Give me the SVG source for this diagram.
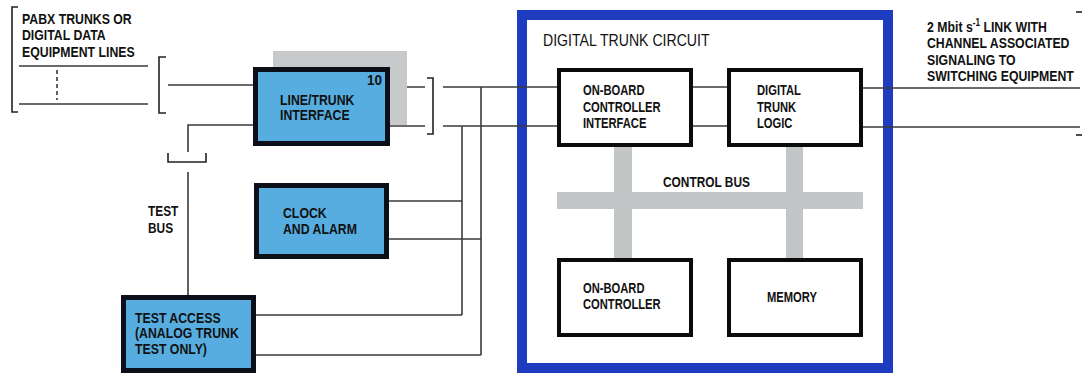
<svg xmlns="http://www.w3.org/2000/svg" width="1082" height="373" viewBox="0 0 1082 373">
<style>
  text { font-family: "Liberation Sans", Arial, sans-serif; fill: #111; }
  .t { font-weight: bold; font-size: 15px; }
  .tw { font-weight: bold; font-size: 14px; }
  .tb { font-weight: bold; font-size: 14.5px; }
  .tr { font-weight: normal; font-size: 17px; }
  .bluebox { fill: #58ade0; stroke: #0b0f1a; stroke-width: 5; }
  .whitebox { fill: #ffffff; stroke: #0b0b0b; stroke-width: 4; }
  .ln { fill: none; stroke: #3a3a3a; stroke-width: 1.6; }
  .br { fill: none; stroke: #222; stroke-width: 1.6; }
  .bus { fill: #c3c6c6; }
</style>
<rect width="1082" height="373" fill="#ffffff"/>

<g id="pabx-lines">
  <path class="br" d="M18,7 H12 V112 H18"/>
  <text class="t" transform="matrix(0.82,0,0,1,22,24)">PABX TRUNKS OR</text>
  <text class="t" transform="matrix(0.82,0,0,1,22,40)">DIGITAL DATA</text>
  <text class="t" transform="matrix(0.82,0,0,1,22,57)">EQUIPMENT LINES</text>
  <line class="ln" x1="19" y1="66" x2="148" y2="66"/>
  <line class="ln" x1="19" y1="104" x2="148" y2="104"/>
  <line class="ln" x1="57" y1="70" x2="57" y2="100" stroke-dasharray="4,3"/>
  <path class="br" d="M166,57 H159 V113 H166"/>
</g>

<g id="digital-trunk-circuit">
  <rect x="522" y="15" width="366" height="353" fill="none" stroke="#1d3cc0" stroke-width="10"/>
  <text class="tr" transform="matrix(0.83,0,0,1,543,46)">DIGITAL TRUNK CIRCUIT</text>
</g>

<g id="control-bus">
  <rect class="bus" x="614" y="147" width="18" height="111"/>
  <rect class="bus" x="786" y="147" width="17" height="111"/>
  <rect class="bus" x="557" y="192" width="306" height="17"/>
  <text class="tb" transform="matrix(0.82,0,0,1,663,187)">CONTROL BUS</text>
</g>

<g id="connectors">
  <line class="ln" x1="168" y1="85" x2="253" y2="85"/>
  <polyline class="ln" points="253,125 188,125 188,152"/>
  <polyline class="br" points="168,153 168,162 206,162 206,153"/>
  <line class="ln" x1="188" y1="172" x2="188" y2="295"/>
  <line class="ln" x1="390" y1="87" x2="425" y2="87"/>
  <line class="ln" x1="390" y1="126" x2="425" y2="126"/>
  <path class="br" d="M427,78 H433 V134 H427"/>
  <line class="ln" x1="443" y1="87" x2="557" y2="87"/>
  <line class="ln" x1="443" y1="126" x2="557" y2="126"/>
  <line class="ln" x1="481" y1="87" x2="481" y2="355"/>
  <line class="ln" x1="462" y1="126" x2="462" y2="315"/>
  <line class="ln" x1="389" y1="201" x2="462" y2="201"/>
  <line class="ln" x1="389" y1="239" x2="481" y2="239"/>
  <line class="ln" x1="256" y1="315" x2="462" y2="315"/>
  <line class="ln" x1="256" y1="355" x2="481" y2="355"/>
  <line class="ln" x1="693" y1="87" x2="727" y2="87"/>
  <line class="ln" x1="693" y1="126" x2="727" y2="126"/>
  <line class="ln" x1="863" y1="88" x2="1080" y2="88"/>
  <line class="ln" x1="863" y1="127" x2="1080" y2="127"/>
  <line class="br" x1="1076" y1="12" x2="1082" y2="12"/>
  <line class="br" x1="1076" y1="135" x2="1082" y2="135"/>
</g>

<g id="line-trunk-interface">
  <rect x="273" y="51" width="134" height="74" fill="#c8c9ca"/>
  <rect class="bluebox" x="255.5" y="69.5" width="132" height="74"/>
  <text class="t" transform="matrix(0.9,0,0,1,367,85)">10</text>
  <text class="t" transform="matrix(0.82,0,0,1,280,105)">LINE/TRUNK</text>
  <text class="t" transform="matrix(0.82,0,0,1,280,120)">INTERFACE</text>
</g>

<g id="clock-alarm">
  <rect class="bluebox" x="256.5" y="185.5" width="130" height="71"/>
  <text class="t" transform="matrix(0.82,0,0,1,283,218)">CLOCK</text>
  <text class="t" transform="matrix(0.82,0,0,1,283,234)">AND ALARM</text>
</g>

<g id="test-access">
  <rect class="bluebox" x="123.5" y="297.5" width="130" height="73"/>
  <text class="t" transform="matrix(0.82,0,0,1,135,323)">TEST ACCESS</text>
  <text class="t" transform="matrix(0.82,0,0,1,135,338)">(ANALOG TRUNK</text>
  <text class="t" transform="matrix(0.82,0,0,1,135,354)">TEST ONLY)</text>
</g>

<g id="test-bus-label">
  <text class="tb" transform="matrix(0.82,0,0,1,148,216)">TEST</text>
  <text class="tb" transform="matrix(0.82,0,0,1,148,233)">BUS</text>
</g>

<g id="obc-interface">
  <rect class="whitebox" x="559" y="70" width="132" height="75"/>
  <text class="tw" transform="matrix(0.8,0,0,1,583,95)">ON-BOARD</text>
  <text class="tw" transform="matrix(0.8,0,0,1,583,112)">CONTROLLER</text>
  <text class="tw" transform="matrix(0.8,0,0,1,583,128)">INTERFACE</text>
</g>

<g id="digital-trunk-logic">
  <rect class="whitebox" x="729" y="70" width="132" height="75"/>
  <text class="tw" transform="matrix(0.8,0,0,1,757,95)">DIGITAL</text>
  <text class="tw" transform="matrix(0.8,0,0,1,757,112)">TRUNK</text>
  <text class="tw" transform="matrix(0.8,0,0,1,757,128)">LOGIC</text>
</g>

<g id="obc">
  <rect class="whitebox" x="559" y="260" width="132" height="75"/>
  <text class="tw" transform="matrix(0.8,0,0,1,583,293)">ON-BOARD</text>
  <text class="tw" transform="matrix(0.8,0,0,1,583,309)">CONTROLLER</text>
</g>

<g id="memory">
  <rect class="whitebox" x="729" y="260" width="132" height="75"/>
  <text class="tw" transform="matrix(0.8,0,0,1,767,302)">MEMORY</text>
</g>

<g id="link-label">
  <text class="t" transform="matrix(0.82,0,0,1,927,32)">2 Mbit s<tspan dy="-6" font-size="10">-1</tspan><tspan dy="6"> LINK WITH</tspan></text>
  <text class="t" transform="matrix(0.82,0,0,1,927,48)">CHANNEL ASSOCIATED</text>
  <text class="t" transform="matrix(0.82,0,0,1,927,65)">SIGNALING TO</text>
  <text class="t" transform="matrix(0.82,0,0,1,927,81)">SWITCHING EQUIPMENT</text>
</g>
</svg>
